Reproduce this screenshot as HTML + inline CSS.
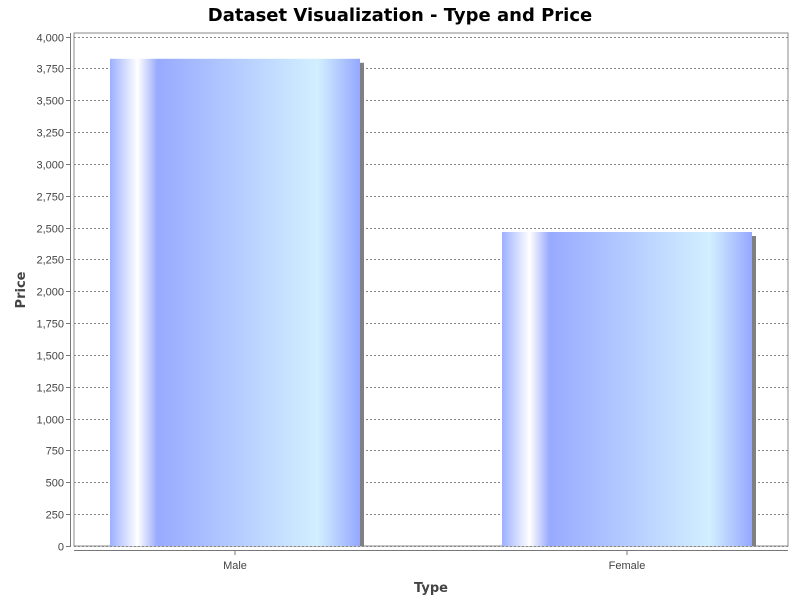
<!DOCTYPE html>
<html><head><meta charset="utf-8"><style>
body{margin:0;background:#fff;font-family:"Liberation Sans","DejaVu Sans",sans-serif;}
</style></head><body>
<svg id="chart" width="800" height="600" xmlns="http://www.w3.org/2000/svg">
<defs>
<linearGradient id="bg" x1="0" x2="1" y1="0" y2="0">
<stop offset="0" stop-color="#9cb0ff"/>
<stop offset="0.11" stop-color="#ffffff"/>
<stop offset="0.19" stop-color="#98aaff"/>
<stop offset="0.5" stop-color="#b4cbff"/>
<stop offset="0.83" stop-color="#d2efff"/>
<stop offset="1" stop-color="#94a8ff"/>
</linearGradient>
</defs>
<text x="400" y="21" text-anchor="middle" font-family="DejaVu Sans, sans-serif" font-weight="bold" font-size="18">Dataset Visualization - Type and Price</text>
<rect x="74" y="33" width="714" height="513" fill="#fff" stroke="#888" stroke-width="1"/>
<g id="grid"></g>
<g id="bars"></g>
<line x1="70.5" y1="33" x2="70.5" y2="547" stroke="#777"/>
<line x1="74" y1="550.5" x2="788" y2="550.5" stroke="#777"/>
<g id="yticks" font-size="11" fill="#444"></g>
<g id="xticks" font-size="11" fill="#444"></g>
<text transform="translate(25,290) rotate(-90)" text-anchor="middle" font-size="13" font-weight="bold" fill="#444" font-family="DejaVu Sans, sans-serif">Price</text>
<text x="431" y="592" text-anchor="middle" font-size="13" font-weight="bold" fill="#444" font-family="DejaVu Sans, sans-serif">Type</text>
</svg>
<script>
const categories=["Male","Female"];
const prices=[3825,2465];
const yTicks=[0,250,500,750,1000,1250,1500,1750,2000,2250,2500,2750,3000,3250,3500,3750,4000];
const NS="http://www.w3.org/2000/svg";
const y0=546,yTop=36.5,yMax=4000;
function y(v){return y0-(v/yMax)*(y0-yTop);}
const plotL=74,plotW=714,edge=161;
function xc(i){const n=categories.length;if(n<2)return plotL+plotW/2;return plotL+edge+i*(plotW-2*edge)/(n-1);}
const barW=250;
function mk(t,a,p){const e=document.createElementNS(NS,t);for(const k in a)e.setAttribute(k,a[k]);p.appendChild(e);return e;}
const grid=document.getElementById('grid'),yt=document.getElementById('yticks'),xt=document.getElementById('xticks'),bars=document.getElementById('bars');
yTicks.forEach(v=>{
 const yy=Math.round(y(v))+0.5;
 const g=mk('line',{x1:74,x2:788,y1:yy,y2:yy,stroke:'#888','stroke-dasharray':'2,2'},grid);
 
 
 const tk=mk('line',{x1:66,x2:70,y1:yy,y2:yy,stroke:'#777'},yt);
 
 
 const t=mk('text',{x:64,y:yy+4,'text-anchor':'end'},yt);
 t.textContent=v.toLocaleString('en-US');
 
 
});
categories.forEach((c,i)=>{
 const cx=xc(i),top=y(prices[i]);
 const s=mk('rect',{x:cx-barW/2+4,y:top+4,width:barW,height:y0-top-4,fill:'#808080'},bars);
 
 
 const b=mk('rect',{x:cx-barW/2,y:top,width:barW,height:y0-top,fill:'url(#bg)'},bars);
 
 
 const tk=mk('line',{x1:cx,x2:cx,y1:551,y2:555,stroke:'#777'},xt);
 
 
 const t=mk('text',{x:cx,y:569,'text-anchor':'middle'},xt);
 t.textContent=c;
 
 
});
</script>
</body></html>
